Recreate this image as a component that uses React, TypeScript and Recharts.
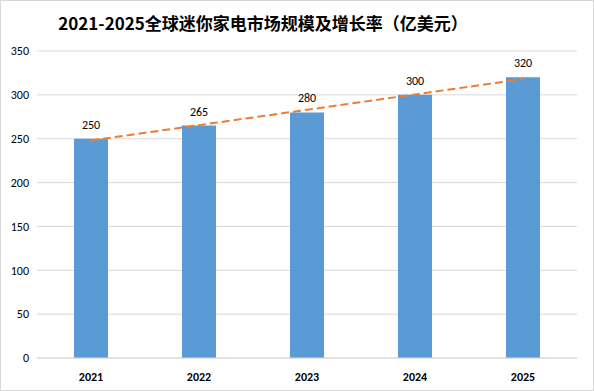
import { Bar, CartesianGrid, ComposedChart, LabelList, Line, XAxis, YAxis } from 'recharts';

const years = ['2021', '2022', '2023', '2024', '2025'];
const marketSize = [250, 265, 280, 300, 320];
// linear trendline
const trend = [248, 265.5, 283, 300.5, 318];
const yTicks = [0, 50, 100, 150, 200, 250, 300, 350];

const data = years.map((year, i) => ({
  year,
  size: marketSize[i],
  trend: trend[i],
}));

const font = "Carlito, 'Liberation Sans', Arial, sans-serif";

export default function App() {
  return (
    <div
      style={{
        position: 'absolute',
        left: 0,
        top: 0,
        width: 594,
        height: 391,
        background: '#fff',
        boxSizing: 'border-box',
        border: '1px solid #d9d9d9',
      }}
    >
      <div
        style={{
          position: 'absolute',
          top: 10,
          left: 0,
          width: 524,
          textAlign: 'center',
          fontFamily: "'Noto Sans CJK SC', sans-serif",
          fontWeight: 'bold',
          fontSize: 17,
          lineHeight: '24px',
          color: '#000',
        }}
      >
        2021-2025全球迷你家电市场规模及增长率（亿美元）
      </div>
      <ComposedChart
        width={592}
        height={389}
        data={data}
        margin={{ top: 50, right: 16, bottom: 6, left: 6 }}
        style={{ position: 'absolute', left: 0, top: 0 }}
      >
        <CartesianGrid vertical={false} stroke="#d9d9d9" />
        <XAxis
          dataKey="year"
          axisLine={{ stroke: '#d9d9d9' }}
          tickLine={false}
          height={26}
          tick={{ fill: '#000', fontSize: 12, fontWeight: 'bold', fontFamily: font }}
          tickMargin={8}
        />
        <YAxis
          domain={[0, 350]}
          ticks={yTicks}
          axisLine={false}
          tickLine={false}
          width={30}
          tick={{ fill: '#000', fontSize: 12, fontFamily: font }}
        />
        <Bar dataKey="size" fill="#5b9bd5" barSize={34} isAnimationActive={false}>
          <LabelList
            dataKey="size"
            position="top"
            offset={10}
            style={{ fill: '#000', fontSize: 12, fontFamily: font }}
          />
        </Bar>
        <Line
          dataKey="trend"
          type="linear"
          stroke="#ed7d31"
          strokeWidth={2}
          strokeDasharray="8 4"
          dot={false}
          activeDot={false}
          isAnimationActive={false}
        />
      </ComposedChart>
    </div>
  );
}
